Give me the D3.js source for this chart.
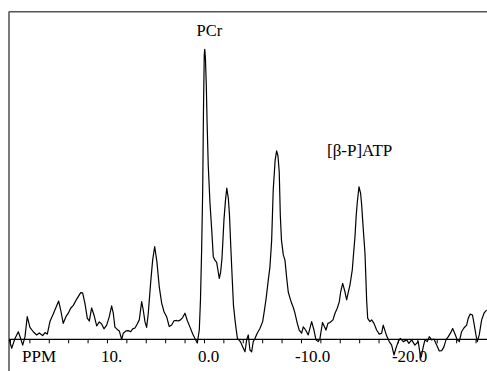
<!DOCTYPE html>
<html>
<head>
<meta charset="utf-8">
<script src="https://cdn.jsdelivr.net/npm/d3@7"></script>
<style>
  html, body { margin: 0; padding: 0; background: #fff; }
  svg { display: block; }
</style>
</head>
<body>
<svg id="chart" width="487" height="371"></svg>
<script>
// Chemical shift (ppm) and signal intensity (a.u., PCr peak = 100)
const ppm = [20.07,19.82,19.48,19.14,18.90,18.69,18.45,18.22,17.94,17.60,17.25,16.98,16.63,16.39,16.15,15.88,15.54,15.26,14.98,14.77,14.51,14.23,13.99,13.74,13.47,13.20,12.96,12.71,12.51,12.27,12.03,11.82,11.58,11.34,11.06,10.79,10.55,10.31,10.03,9.76,9.52,9.35,9.18,8.94,8.73,8.48,8.32,8.04,7.80,7.56,7.35,7.11,6.88,6.67,6.42,6.26,6.08,5.91,5.74,5.49,5.29,5.08,4.85,4.61,4.36,4.12,3.85,3.58,3.33,3.09,2.81,2.65,2.42,2.20,1.96,1.72,1.44,1.16,0.93,0.69,0.48,0.36,0.24,0.13,0.05,-0.03,-0.08,-0.15,-0.24,-0.33,-0.44,-0.62,-0.80,-0.96,-1.13,-1.31,-1.44,-1.58,-1.72,-1.86,-2.06,-2.22,-2.35,-2.51,-2.63,-2.78,-2.92,-3.04,-3.20,-3.33,-3.45,-3.64,-3.76,-3.99,-4.23,-4.40,-4.57,-4.74,-4.92,-5.08,-5.26,-5.49,-5.77,-6.05,-6.19,-6.39,-6.63,-6.80,-6.98,-7.14,-7.34,-7.49,-7.63,-7.76,-7.87,-7.99,-8.18,-8.35,-8.53,-8.69,-8.87,-9.04,-9.23,-9.38,-9.62,-9.82,-10.07,-10.24,-10.48,-10.75,-11.10,-11.34,-11.55,-11.78,-11.96,-12.22,-12.58,-12.78,-12.99,-13.30,-13.51,-13.74,-13.95,-14.09,-14.30,-14.54,-14.71,-14.88,-15.05,-15.29,-15.43,-15.57,-15.70,-15.80,-15.98,-16.15,-16.26,-16.36,-16.49,-16.60,-16.70,-16.77,-16.88,-17.11,-17.29,-17.53,-17.80,-18.07,-18.32,-18.48,-18.84,-19.10,-19.35,-19.59,-19.79,-20.03,-20.24,-20.55,-20.90,-21.13,-21.41,-21.75,-22.09,-22.27,-22.40,-22.61,-22.78,-23.02,-23.23,-23.47,-23.71,-23.99,-24.26,-24.51,-24.74,-24.95,-25.19,-25.43,-25.64,-25.88,-26.11,-26.32,-26.57,-26.80,-27.08,-27.25,-27.45,-27.68,-27.84,-28.04,-28.18,-28.38,-28.63,-28.87,-29.14];
const intensity = [-0.2,-3.1,0.3,2.6,0.3,-2.0,0.9,7.8,4.1,2.6,1.5,2.2,1.3,2.3,1.8,6.1,8.7,11.0,13.2,10.1,5.5,7.8,9.0,10.7,11.7,13.4,14.7,16.1,16.0,12.4,7.3,6.3,10.8,8.4,4.6,6.0,5.3,3.6,4.9,7.8,11.5,9.0,4.2,3.4,2.9,-0.1,2.1,2.9,3.0,2.6,3.6,3.9,5.3,6.7,13.0,10.1,6.0,4.1,9.0,19.8,27.3,32.0,26.7,18.1,12.5,9.5,7.8,4.4,4.9,6.4,6.5,6.3,6.7,7.5,9.0,6.5,4.2,1.8,0.3,-1.3,3.2,13.6,30.8,51.5,79.1,98.0,100,97.0,87.7,73.9,60.1,47.0,37.7,28.5,27.3,26.5,23.9,21.0,23.2,28.0,41.1,48.0,52.1,48.7,42.9,30.8,20.4,11.8,6.7,3.2,0.3,-0.4,-0.8,-2.6,-4.3,-0.2,1.5,-3.7,-4.3,-0.8,0.3,2.1,3.7,6.1,9.0,13.6,20.4,24.9,34.2,51.5,61.8,65.0,63.2,57.7,42.9,34.2,29.1,27.3,21.1,16.3,14.2,12.4,10.8,9.0,5.5,3.2,2.1,4.3,3.2,1.5,6.1,3.2,-0.2,-0.8,0.3,5.8,3.2,5.5,5.8,6.7,9.0,10.7,12.9,16.3,19.3,16.3,13.6,16.3,18.7,23.9,29.8,35.4,42.9,47.0,52.6,50.3,46.3,41.1,34.9,29.7,20.4,13.6,7.2,6.1,6.7,5.5,3.2,1.8,2.1,4.9,1.1,-0.8,-2.0,-5.4,-3.1,-0.8,0.3,-0.8,-0.2,-1.4,-0.2,-2.0,-0.8,-4.8,-6.1,-2.6,-0.2,-0.8,0.9,-0.2,0.1,-2.0,-4.0,-3.9,-2.6,-0.2,0.9,2.2,3.7,1.8,-0.2,-0.8,2.7,3.9,4.9,7.3,8.7,8.4,5.5,1.5,-0.8,1.5,6.7,9.0,10.1];

const tickValues = [20,18,16,14,12,10,8,6,4,2,0,-2,-4,-6,-8,-10,-12,-14,-16,-18,-20,-22,-24,-26,-28];
const tickLabelValues = [10, 0, -10, -20];
const tickLabels = ["10.", "0.0", "-10.0", "-20.0"];
const axisTitle = "PPM";
const peakLabels = ["PCr", "[β-P]ATP"];

const FONT = "'Liberation Serif', 'Times New Roman', Times, serif";
const W = 487, H = 371;
const svg = d3.select("#chart");

const x = d3.scaleLinear().domain([20.1, -29.18]).range([9, 487]);
const y = d3.scaleLinear().domain([0, 100]).range([339.3, 49.3]);

// frame: left and top edges
svg.append("line").attr("x1", 9).attr("x2", 9).attr("y1", 11.5).attr("y2", H)
  .attr("stroke", "#222").attr("stroke-width", 1.2);
svg.append("line").attr("x1", 9).attr("x2", W).attr("y1", 11.8).attr("y2", 11.8)
  .attr("stroke", "#555").attr("stroke-width", 1.6);

// baseline axis with ticks
const axis = d3.axisBottom(x).tickValues(tickValues).tickSize(4).tickFormat("");
const gAxis = svg.append("g").attr("transform", `translate(0,${y(0)})`).call(axis);
gAxis.select(".domain").attr("d", `M9,0H${W}`).attr("stroke", "#000").attr("stroke-width", 1.2);
gAxis.selectAll(".tick line").attr("stroke", "#000").attr("stroke-width", 1);

// tick labels
svg.append("g").selectAll("text").data(tickLabelValues).join("text")
  .attr("x", d => x(d) - 6)
  .attr("y", 362)
  .attr("font-family", FONT)
  .attr("font-size", 17)
  .attr("fill", "#000")
  .attr("text-anchor", "start")
  .text((d, i) => tickLabels[i]);
svg.append("text").attr("x", 22).attr("y", 362)
  .attr("font-family", FONT).attr("font-size", 17).attr("fill", "#000").text(axisTitle);

// spectrum
const line = d3.line().x((d, i) => x(ppm[i])).y((d, i) => y(intensity[i]));
svg.append("path").datum(intensity)
  .attr("d", line)
  .attr("fill", "none")
  .attr("stroke", "#000")
  .attr("stroke-width", 1.2)
  .attr("stroke-linejoin", "round");

// peak labels
svg.append("text").attr("x", x(-0.55)).attr("y", 36)
  .attr("font-family", FONT).attr("font-size", 16.5).attr("fill", "#000")
  .attr("text-anchor", "middle").text(peakLabels[0]);
svg.append("text").attr("x", 327).attr("y", 156)
  .attr("font-family", FONT).attr("font-size", 17).attr("fill", "#000")
  .attr("text-anchor", "start").text(peakLabels[1]);
</script>
</body>
</html>
